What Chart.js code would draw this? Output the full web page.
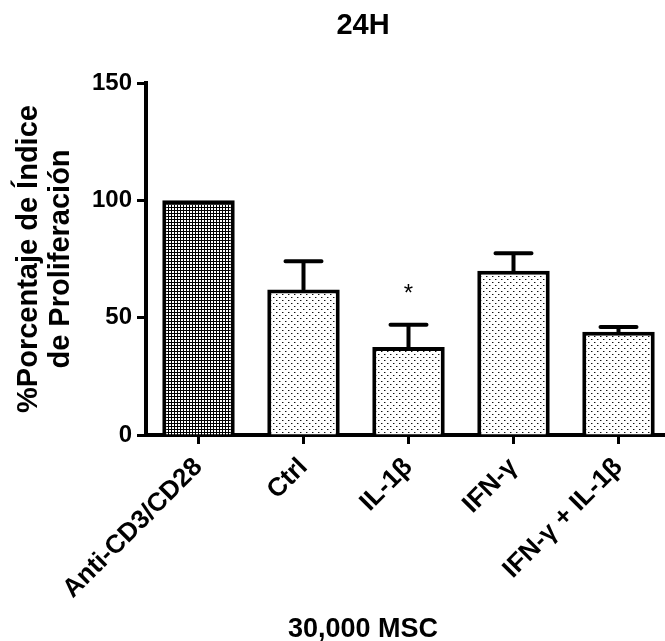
<!DOCTYPE html>
<html>
<head>
<meta charset="utf-8">
<script src="https://cdn.jsdelivr.net/npm/chart.js@4"></script>
<style>
  body { margin: 0; overflow: hidden; background: #fff; }
</style>
</head>
<body>
<canvas id="chart" width="680" height="641"></canvas>
<script>
// data
const categories = ["Anti-CD3/CD28", "Ctrl", "IL-1β", "IFN-γ", "IFN-γ + IL-1β"];
const proliferation = [100, 62, 37.5, 70, 44];
const sem = [0, 12, 9.5, 7.5, 2];
const marks = ["", "", "*", "", ""];
const yTicks = [0, 50, 100, 150];

const FONT = "'Liberation Sans', Arial, sans-serif";

function makePattern(size, draw) {
    const c = document.createElement("canvas");
    c.width = size;
    c.height = size;
    const g = c.getContext("2d");
    g.fillStyle = "#fff";
    g.fillRect(0, 0, size, size);
    draw(g);
    return document.getElementById("chart").getContext("2d").createPattern(c, "repeat");
}

// dense grid for the stimulated control, sparse dots for the rest
const dense = makePattern(3, g => {
    g.fillStyle = "#000";
    g.fillRect(0, 0, 3, 1);
    g.fillRect(0, 0, 1, 3);
});
const sparse = makePattern(6, g => {
    g.fillStyle = "#999";
    g.fillRect(1, 0, 1, 1);
    g.fillRect(4, 3, 1, 1);
    g.fillStyle = "#111";
    g.fillRect(0, 0, 1, 1);
    g.fillRect(3, 3, 1, 1);
});

const errorBars = {
    id: "error_bars",
    afterDatasetsDraw(chart) {
        const ctx = chart.ctx;
        const y = chart.scales.y;
        const meta = chart.getDatasetMeta(0);
        ctx.save();
        ctx.strokeStyle = "#000";
        ctx.lineWidth = 4;
        ctx.lineCap = "round";
        meta.data.forEach((bar, i) => {
            const top = y.getPixelForValue(proliferation[i] + sem[i]);
            if (sem[i]) {
                ctx.beginPath();
                ctx.moveTo(bar.x, bar.y);
                ctx.lineTo(bar.x, top);
                ctx.moveTo(bar.x - 18, top);
                ctx.lineTo(bar.x + 18, top);
                ctx.stroke();
            }
            if (marks[i]) {
                ctx.fillStyle = "#000";
                ctx.font = "24px " + FONT;
                ctx.textAlign = "center";
                ctx.textBaseline = "alphabetic";
                ctx.fillText(marks[i], bar.x, top - 24);
            }
        });
        ctx.restore();
    }
};

const titles = {
    id: "titles",
    afterDraw(chart) {
        const ctx = chart.ctx;
        ctx.save();
        ctx.fillStyle = "#000";
        ctx.textAlign = "center";
        ctx.textBaseline = "alphabetic";
        ctx.font = "bold 29px " + FONT;
        ctx.fillText("24H", 363, 34);
        ctx.font = "bold 27px " + FONT;
        ctx.fillText("30,000 MSC", 363, 637);
        ctx.restore();
    }
};

const config = {
    type: "bar",
    data: {
        labels: categories,
        datasets: [{
            data: proliferation,
            backgroundColor: [dense, sparse, sparse, sparse, sparse],
            borderColor: "#000",
            borderWidth: 4,
            categoryPercentage: 1,
            barPercentage: 0.69
        }]
    },
    options: {
        responsive: false,
        animation: false,
        layout: { padding: { top: 83, right: 9, left: 0, bottom: 0 } },
        plugins: {
            legend: { display: false },
            tooltip: { enabled: false }
        },
        scales: {
            x: {
                afterFit(scale) { scale.height = 206; },
                grid: { offset: false, drawOnChartArea: false, tickLength: 9, tickWidth: 3, tickColor: "#000" },
                border: { color: "#000", width: 4 },
                ticks: {
                    color: "#000",
                    minRotation: 45,
                    maxRotation: 45,
                    padding: 8,
                    font: { family: FONT, size: 26, weight: "bold" }
                }
            },
            y: {
                min: 0,
                max: 150,
                afterFit(scale) { scale.width = 146; },
                afterBuildTicks(scale) { scale.ticks = yTicks.map(v => ({ value: v })); },
                grid: { drawOnChartArea: false, tickLength: 9, tickWidth: 3, tickColor: "#000" },
                border: { color: "#000", width: 4 },
                ticks: {
                    color: "#000",
                    padding: 5,
                    font: { family: FONT, size: 24, weight: "bold" }
                },
                title: {
                    display: true,
                    text: ["%Porcentaje de Índice", "de Proliferación"],
                    color: "#000",
                    padding: { top: 13, bottom: 0 },
                    font: { family: FONT, size: 29, weight: "bold", lineHeight: 1.1 }
                }
            }
        }
    },
    plugins: [errorBars, titles]
};

new Chart(document.getElementById("chart"), config);
</script>
</body>
</html>
